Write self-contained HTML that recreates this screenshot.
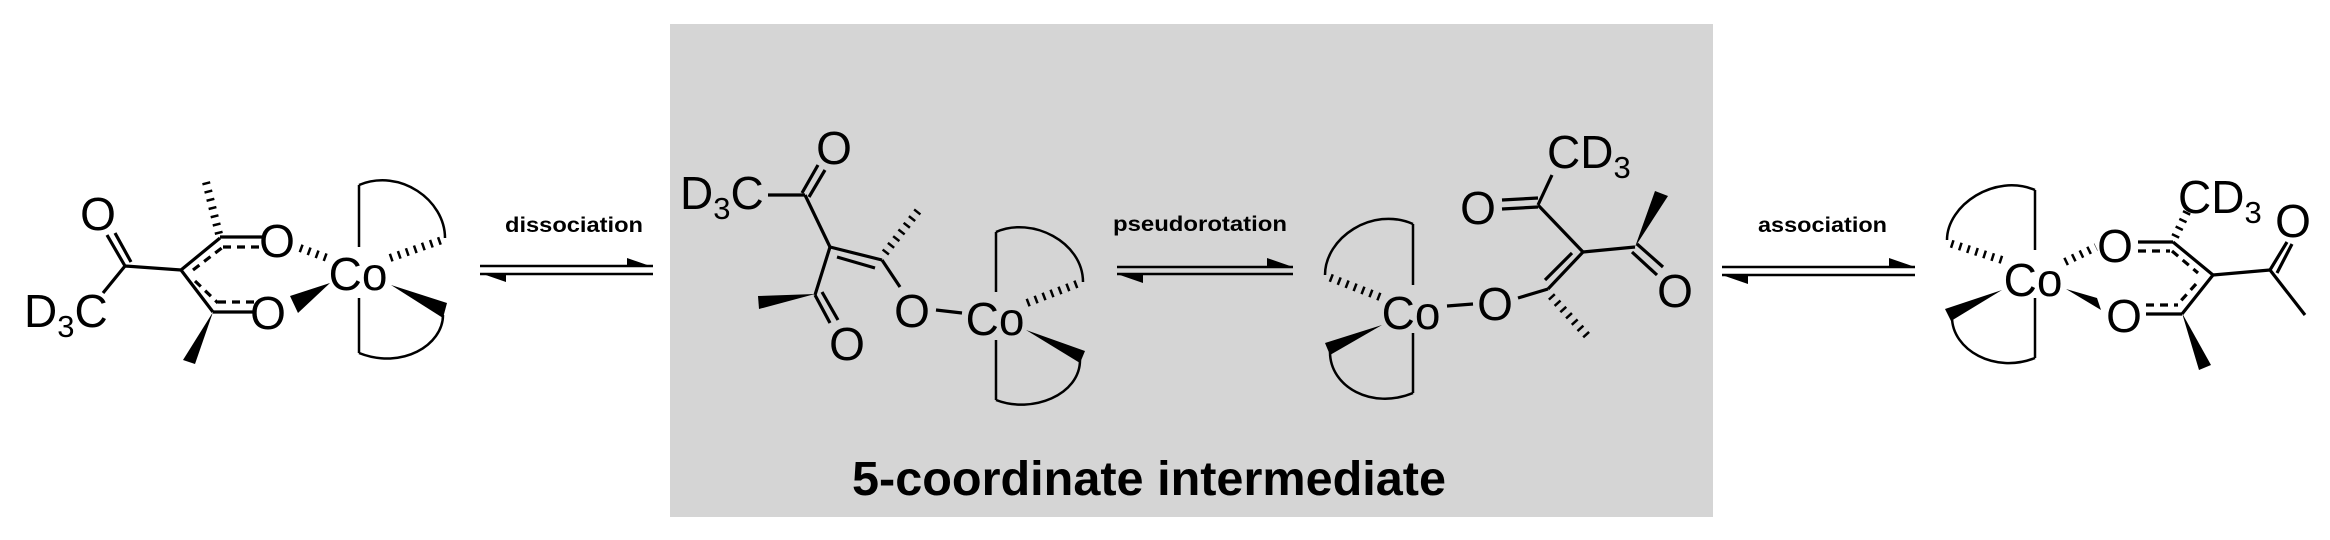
<!DOCTYPE html>
<html><head><meta charset="utf-8"><style>
html,body{margin:0;padding:0;background:#fff;}
svg{display:block;}
.a{font-family:"Liberation Sans",Arial,sans-serif;font-size:46px;fill:#000;}
.b{font-family:"Liberation Sans",Arial,sans-serif;font-weight:bold;fill:#000;}
</style></head><body>
<svg width="2330" height="540" viewBox="0 0 2330 540" xmlns="http://www.w3.org/2000/svg">
<rect x="670" y="24" width="1043" height="493" fill="#d5d5d5"/>
<g stroke="#000" stroke-width="3.2" fill="none" stroke-linecap="butt">
<!-- LEFT MOLECULE -->
<line x1="107" y1="235" x2="125" y2="266"/><line x1="115" y1="233" x2="131" y2="262"/>
<line x1="125" y1="266" x2="103" y2="293"/>
<line x1="125" y1="266" x2="181" y2="270"/>
<line x1="181" y1="270" x2="220" y2="238"/>
<line x1="193" y1="270" x2="223" y2="247" stroke-dasharray="8,6"/>
<line x1="220" y1="237" x2="262" y2="237"/>
<line x1="223" y1="247" x2="262" y2="247" stroke-dasharray="8,6"/>
<line x1="181" y1="270" x2="213" y2="312"/>
<line x1="195" y1="281" x2="218" y2="303" stroke-dasharray="8,6"/>
<line x1="213" y1="312" x2="255" y2="312"/>
<line x1="218" y1="302" x2="255" y2="302" stroke-dasharray="8,6"/>
<line x1="219" y1="234" x2="206" y2="182" stroke-width="8" stroke-dasharray="2.5,6"/>
<line x1="300" y1="248" x2="330" y2="259" stroke-width="8" stroke-dasharray="2.5,6"/>
<line x1="359" y1="185" x2="359" y2="247" stroke-width="2.5"/>
<line x1="359" y1="298" x2="359" y2="353" stroke-width="2.5"/>
<path d="M359,185 C400,168 445,200 445,238" stroke-width="2.5"/>
<path d="M359,353 C402,370 443,345 443,315" stroke-width="2.5"/>
<line x1="390" y1="258" x2="445" y2="239" stroke-width="8" stroke-dasharray="2.5,6"/>
<!-- arrow 1 -->
<line x1="480" y1="266" x2="653" y2="266" stroke-width="2.5"/>
<line x1="480" y1="274" x2="653" y2="274" stroke-width="2.5"/>
<!-- MIDDLE LEFT -->
<line x1="768" y1="195" x2="805" y2="195"/>
<line x1="802" y1="193" x2="818" y2="165"/><line x1="809" y1="197" x2="825" y2="170"/>
<line x1="805" y1="195" x2="830" y2="247"/>
<line x1="830" y1="247" x2="815" y2="295"/>
<line x1="815" y1="295" x2="830" y2="323"/><line x1="822" y1="292" x2="838" y2="320"/>
<line x1="830" y1="247" x2="882" y2="260"/>
<line x1="837" y1="257" x2="875" y2="268"/>
<line x1="882" y1="260" x2="900" y2="287"/>
<line x1="885" y1="253" x2="918" y2="211" stroke-width="8" stroke-dasharray="2.5,6"/>
<line x1="936" y1="310" x2="962" y2="313"/>
<line x1="996" y1="232" x2="996" y2="292" stroke-width="2.5"/>
<line x1="996" y1="340" x2="996" y2="400" stroke-width="2.5"/>
<path d="M996,232 C1032,216 1083,242 1083,282" stroke-width="2.5"/>
<path d="M996,400 C1032,414 1080,395 1080,360" stroke-width="2.5"/>
<line x1="1027" y1="303" x2="1082" y2="282" stroke-width="8" stroke-dasharray="2.5,6"/>
<!-- arrow 2 -->
<line x1="1117" y1="267" x2="1293" y2="267" stroke-width="2.5"/>
<line x1="1117" y1="274" x2="1293" y2="274" stroke-width="2.5"/>
<!-- MIDDLE RIGHT -->
<line x1="1413" y1="224" x2="1413" y2="285" stroke-width="2.5"/>
<line x1="1413" y1="333" x2="1413" y2="393" stroke-width="2.5"/>
<path d="M1413,224 C1372,206 1325,238 1325,275" stroke-width="2.5"/>
<path d="M1413,393 C1372,410 1330,387 1330,352" stroke-width="2.5"/>
<line x1="1380" y1="297" x2="1326" y2="276" stroke-width="8" stroke-dasharray="2.5,6"/>
<line x1="1447" y1="306" x2="1473" y2="304"/>
<line x1="1518" y1="298" x2="1548" y2="289"/>
<line x1="1548" y1="289" x2="1583" y2="252"/>
<line x1="1545" y1="280" x2="1572" y2="253"/>
<line x1="1551" y1="296" x2="1591" y2="340" stroke-width="8" stroke-dasharray="2.5,6"/>
<line x1="1583" y1="252" x2="1538" y2="205"/>
<line x1="1502" y1="200" x2="1538" y2="198"/><line x1="1502" y1="209" x2="1538" y2="207"/>
<line x1="1538" y1="205" x2="1552" y2="175"/>
<line x1="1583" y1="252" x2="1635" y2="247"/>
<line x1="1637" y1="244" x2="1663" y2="267"/><line x1="1632" y1="252" x2="1657" y2="275"/>
<!-- arrow 3 -->
<line x1="1722" y1="267" x2="1915" y2="267" stroke-width="2.5"/>
<line x1="1722" y1="275" x2="1915" y2="275" stroke-width="2.5"/>
<!-- RIGHT MOLECULE -->
<line x1="2035" y1="190" x2="2035" y2="250" stroke-width="2.5"/>
<line x1="2035" y1="298" x2="2035" y2="358" stroke-width="2.5"/>
<path d="M2035,190 C1995,173 1947,205 1947,240" stroke-width="2.5"/>
<path d="M2035,358 C1995,374 1952,350 1952,317" stroke-width="2.5"/>
<line x1="2002" y1="260" x2="1946" y2="242" stroke-width="8" stroke-dasharray="2.5,6"/>
<line x1="2065" y1="262" x2="2096" y2="247" stroke-width="8" stroke-dasharray="2.5,6"/>
<line x1="2138" y1="242" x2="2173" y2="242"/>
<line x1="2138" y1="251" x2="2170" y2="251" stroke-dasharray="8,6"/>
<line x1="2173" y1="242" x2="2213" y2="275"/>
<line x1="2172" y1="251" x2="2198" y2="273" stroke-dasharray="8,6"/>
<line x1="2213" y1="275" x2="2182" y2="314"/>
<line x1="2196" y1="284" x2="2178" y2="304" stroke-dasharray="8,6"/>
<line x1="2146" y1="314" x2="2182" y2="314"/>
<line x1="2146" y1="305" x2="2178" y2="305" stroke-dasharray="8,6"/>
<line x1="2175" y1="237" x2="2188" y2="210" stroke-width="8" stroke-dasharray="2.5,6"/>
<line x1="2213" y1="275" x2="2270" y2="270"/>
<line x1="2270" y1="270" x2="2287" y2="242"/><line x1="2277" y1="273" x2="2292" y2="244"/>
<line x1="2270" y1="270" x2="2305" y2="315"/>
</g>
<g fill="#000">
<polygon points="213,312 183,360 195,364"/>
<polygon points="290,296 298,313 330,283"/>
<polygon points="391,285 447,303 443,318"/>
<polygon points="653,267 627,258 627,267"/>
<polygon points="480,273 506,282 506,273"/>
<polygon points="815,294 758,296 759,309"/>
<polygon points="1026,330 1085,351 1080,363"/>
<polygon points="1293,267 1267,258 1267,267"/>
<polygon points="1117,274 1143,283 1143,274"/>
<polygon points="1382,325 1325,343 1330,355"/>
<polygon points="1635,247 1655,191 1668,196"/>
<polygon points="1915,267 1889,258 1889,267"/>
<polygon points="1722,275 1748,284 1748,275"/>
<polygon points="2002,290 1945,309 1951,321"/>
<polygon points="2066,289 2097,298 2101,310"/>
<polygon points="2182,313 2199,370 2211,365"/>
</g>
<g class="a" text-anchor="middle">
<text x="98" y="230">O</text>
<text x="277" y="257">O</text>
<text x="268" y="329">O</text>
<text x="358" y="290">Co</text>
<text x="834" y="164">O</text>
<text x="847" y="360">O</text>
<text x="912" y="327">O</text>
<text x="995" y="335">Co</text>
<text x="1411" y="329">Co</text>
<text x="1495" y="320">O</text>
<text x="1478" y="224">O</text>
<text x="1675" y="307">O</text>
<text x="2033" y="296">Co</text>
<text x="2115" y="262">O</text>
<text x="2124" y="332">O</text>
<text x="2293" y="237">O</text>
</g>
<text class="a" x="24" y="327">D<tspan font-size="31" dy="10">3</tspan><tspan dy="-10">C</tspan></text>
<text class="a" x="680" y="209">D<tspan font-size="31" dy="10">3</tspan><tspan dy="-10">C</tspan></text>
<text class="a" x="1547" y="168">CD<tspan font-size="31" dy="10">3</tspan></text>
<text class="a" x="2178" y="213">CD<tspan font-size="31" dy="10">3</tspan></text>
<text class="b" x="505" y="232" font-size="21" textLength="138" lengthAdjust="spacingAndGlyphs">dissociation</text>
<text class="b" x="1113" y="231" font-size="21" textLength="174" lengthAdjust="spacingAndGlyphs">pseudorotation</text>
<text class="b" x="1758" y="232" font-size="21" textLength="129" lengthAdjust="spacingAndGlyphs">association</text>
<text class="b" x="852" y="495" font-size="48" textLength="594" lengthAdjust="spacingAndGlyphs">5-coordinate intermediate</text>
</svg>
</body></html>
